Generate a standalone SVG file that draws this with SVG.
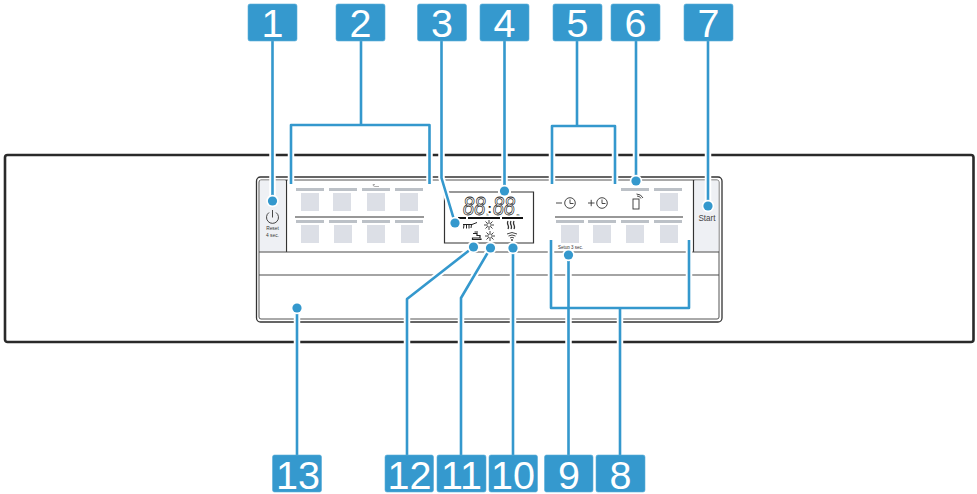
<svg xmlns="http://www.w3.org/2000/svg" width="977" height="494" viewBox="0 0 977 494">
<style>
text{font-family:"Liberation Sans",Arial,sans-serif}
.box{fill:#3599ce;stroke:#5aaed8;stroke-width:.6}
.num{fill:#fff;font-size:39.500px;text-anchor:middle}
.dk{fill:none;stroke:#333;stroke-width:1.2}
.ln{fill:none;stroke:#4a4a4a;stroke-width:1.2}
.bar{fill:#bcc1c7}
.sq{fill:#dcdfe6}
.btn{fill:#eef0f4}
.ic{fill:none;stroke:#333;stroke-width:.9}
.sm{fill:#333;font-size:4.8px;text-anchor:middle}
.lcd{font-size:25px;font-style:italic;fill:#fff;stroke:#222;stroke-width:.8}
.halo{fill:none;stroke:#fff;stroke-width:6.5}
.lead{fill:none;stroke:#3498cd;stroke-width:2.6;stroke-linejoin:round}
.dh{fill:#fff}
.dot{fill:#3498cd}
</style>
<g id="appliance">
<rect x="5" y="155" width="968.5" height="187" rx="2.5" fill="#fff" stroke="#2a2a2a" stroke-width="2.6"/>
<rect x="256.5" y="177" width="465.5" height="145" rx="4" fill="#fff" stroke="#333" stroke-width="1.3"/>
<rect x="259" y="180" width="460" height="139" rx="2" fill="#fff" stroke="#555" stroke-width="1"/>
<rect class="btn" x="260" y="180.500" width="25" height="71"/>
<rect class="btn" x="694.500" y="180.500" width="24" height="71"/>
<path class="dk" d="M286.500 180V252M693.500 180V252"/>
<path class="ln" d="M259 252H719M259 275H719"/>
</g>
<g id="left-keys">
<rect class="bar" x="296" y="188" width="28" height="3"/><rect class="bar" x="329" y="188" width="28" height="3"/><rect class="bar" x="362" y="188" width="28" height="3"/><rect class="bar" x="395" y="188" width="28" height="3"/>
<rect class="sq" x="301" y="193" width="18" height="18"/><rect class="sq" x="333" y="193" width="18" height="18"/><rect class="sq" x="367" y="193" width="18" height="18"/><rect class="sq" x="400" y="193" width="18" height="18"/>
<path class="dk" d="M295 217H424"/>
<rect class="bar" x="296" y="220" width="28" height="3"/><rect class="bar" x="329" y="220" width="28" height="3"/><rect class="bar" x="362" y="220" width="28" height="3"/><rect class="bar" x="395" y="220" width="28" height="3"/>
<rect class="sq" x="301" y="225" width="18" height="18"/><rect class="sq" x="334" y="225" width="18" height="18"/><rect class="sq" x="367" y="225" width="18" height="18"/><rect class="sq" x="401" y="225" width="18" height="18"/>
<path d="M373 184.500Q373 186.500 375 186.500H379M373 184.500H375" fill="none" stroke="#777" stroke-width=".6"/>
</g>
<g id="power-key">
<path class="ic" d="M269 212.500A6 6 0 1 0 276 212.500M272.500 210V217.500"/>
<text class="sm" x="272.500" y="230">Reset</text>
<text class="sm" x="272.500" y="236.500">4 sec.</text>
</g>
<g id="display">
<path class="dk" d="M498 192H444.500V243H533.500V192H511"/>
<text class="lcd" x="463" y="215" textLength="22.500" lengthAdjust="spacingAndGlyphs">88</text>
<text x="487.500" y="212.500" font-size="13" font-weight="bold" fill="#222">:</text>
<text class="lcd" x="493" y="215" textLength="22" lengthAdjust="spacingAndGlyphs">88</text>
<text x="486.500" y="215.500" font-size="3.500" fill="#333">h</text>
<text x="516.500" y="215.500" font-size="3.500" fill="#333">m</text>
<path d="M458 218H466M468 218H500M502 218H523" stroke="#111" stroke-width="1.8" fill="none"/>
<path d="M463 224.500H472L477 222.500M464 224.500L463.500 228.500M466.500 224.500V228.500M469 224.500V228.500M471.500 224.500L471 228" fill="none" stroke="#222" stroke-width="1"/>
<g class="ic" stroke-width=".8"><circle cx="489" cy="225" r="2.200"/><path d="M489 220V222M489 228V230M484 225H486M492 225H494M485.500 221.500L487 223M491 227L492.500 228.500M485.500 228.500L487 227M491 223L492.500 221.500"/></g>
<g class="ic" stroke-width=".8"><circle cx="490" cy="236" r="2.200"/><path d="M490 231V233M490 239V241M485 236H487M493 236H495M486.500 232.500L488 234M492 238L493.500 239.500M486.500 239.500L488 238M492 234L493.500 232.500"/></g>
<path d="M473 233.500H477V235.500H480V238H472.500V239.500H481V238.500M474.500 232H478" fill="none" stroke="#222" stroke-width="1.200"/>
<path d="M508 221Q507 223 508 225T508 229M511 221Q510 223 511 225T511 229M514 221Q513 223 514 225T514 229" fill="none" stroke="#333" stroke-width="1.300"/>
<path d="M507 234Q512 231 517 234M508.500 236Q512 234 515.500 236M510 238Q512 236.500 514 238" fill="none" stroke="#333" stroke-width=".9"/>
<circle cx="512" cy="240" r=".9" fill="#333"/>
</g>
<g id="right-keys">
<path class="ic" d="M556 203H562"/><circle class="ic" cx="570" cy="203" r="5.300"/><path class="ic" d="M570 199.500V203.500H573.500"/>
<path class="ic" d="M588 203H594.500M591.200 199.800V206.200"/><circle class="ic" cx="602" cy="203" r="5.300"/><path class="ic" d="M602 199.500V203.500H605.500"/>
<rect class="ic" x="633" y="199" width="6" height="10" stroke-width=".8"/><path class="ic" d="M637 196Q640 196 641 198.500M636.500 194Q641 194 643 198" stroke-width=".5"/>
<rect class="bar" x="621" y="188" width="28" height="3"/><rect class="bar" x="654" y="188" width="28" height="3"/>
<rect class="sq" x="660" y="193" width="18" height="18"/>
<path class="dk" d="M555 217H683"/>
<rect class="bar" x="556" y="220" width="28" height="3"/><rect class="bar" x="588" y="220" width="28" height="3"/><rect class="bar" x="621" y="220" width="28" height="3"/><rect class="bar" x="654" y="220" width="28" height="3"/>
<rect class="sq" x="561" y="225" width="18" height="18"/><rect class="sq" x="593" y="225" width="18" height="18"/><rect class="sq" x="626" y="225" width="18" height="18"/><rect class="sq" x="660" y="225" width="18" height="18"/>
<text class="sm" x="570.500" y="248.500" textLength="25" lengthAdjust="spacingAndGlyphs">Setup 3 sec.</text>
</g>
<g id="start-key">
<text x="698.500" y="221" font-size="9.500" fill="#444" textLength="17" lengthAdjust="spacingAndGlyphs">Start</text>
</g>
<g id="connectors">
<defs>
<path id="leaders" d="M272.500 41V201M361 41V125M291 184V125H429.500V184M441.500 41V178L455 223M504.500 41V191M577 41V126M552 184V126H615V184M636 41V181M708 41V206M620 455V308M551 240V308H689V240M568.500 455V255M513 455V248M461 455V298L490.500 248M407 455V299L473.500 247M297 455V308"/>
</defs>
<use href="#leaders" class="halo"/>
<use href="#leaders" class="lead"/>
<g class="dh"><circle cx="272.500" cy="201" r="6.200"/><circle cx="708" cy="206" r="6.200"/><circle cx="455" cy="223" r="6.200"/><circle cx="504.500" cy="191" r="6.200"/><circle cx="636" cy="181" r="6.200"/><circle cx="568.500" cy="255" r="6.200"/><circle cx="513" cy="248" r="6.200"/><circle cx="490.500" cy="248" r="6.200"/><circle cx="473.500" cy="247" r="6.200"/><circle cx="297" cy="308" r="6.200"/></g>
<g class="dot"><circle cx="272.500" cy="201" r="4.600"/><circle cx="708" cy="206" r="4.600"/><circle cx="455" cy="223" r="4.600"/><circle cx="504.500" cy="191" r="4.600"/><circle cx="636" cy="181" r="4.600"/><circle cx="568.500" cy="255" r="4.600"/><circle cx="513" cy="248" r="4.600"/><circle cx="490.500" cy="248" r="4.600"/><circle cx="473.500" cy="247" r="4.600"/><circle cx="297" cy="308" r="4.600"/></g>
</g>
<g id="n1"><rect class="box" x="248" y="4" width="49" height="37" rx="2"/><text class="num" x="272.500" y="36.500">1</text></g>
<g id="n2"><rect class="box" x="336" y="4" width="49" height="37" rx="2"/><text class="num" x="360.500" y="36.500">2</text></g>
<g id="n3"><rect class="box" x="417.500" y="4" width="49" height="37" rx="2"/><text class="num" x="442" y="36.500">3</text></g>
<g id="n4"><rect class="box" x="480" y="4" width="49" height="37" rx="2"/><text class="num" x="504.500" y="36.500">4</text></g>
<g id="n5"><rect class="box" x="553" y="4" width="49" height="37" rx="2"/><text class="num" x="577.500" y="36.500">5</text></g>
<g id="n6"><rect class="box" x="611" y="4" width="49" height="37" rx="2"/><text class="num" x="635.500" y="36.500">6</text></g>
<g id="n7"><rect class="box" x="684" y="4" width="49" height="37" rx="2"/><text class="num" x="708.500" y="36.500">7</text></g>
<g id="n13"><rect class="box" x="272.500" y="455" width="49" height="37" rx="2"/><text class="num" x="298" y="488.500">13</text></g>
<g id="n12"><rect class="box" x="385" y="455" width="48.500" height="37" rx="2"/><text class="num" x="409.500" y="488.500">12</text></g>
<g id="n11"><rect class="box" x="437" y="455" width="49" height="37" rx="2"/><text class="num" x="461.500" y="488.500">11</text></g>
<g id="n10"><rect class="box" x="489" y="455" width="48.500" height="37" rx="2"/><text class="num" x="513" y="488.500">10</text></g>
<g id="n9"><rect class="box" x="544.500" y="455" width="48.500" height="37" rx="2"/><text class="num" x="569" y="488.500">9</text></g>
<g id="n8"><rect class="box" x="596" y="455" width="49" height="37" rx="2"/><text class="num" x="620.500" y="488.500">8</text></g>
</svg>
